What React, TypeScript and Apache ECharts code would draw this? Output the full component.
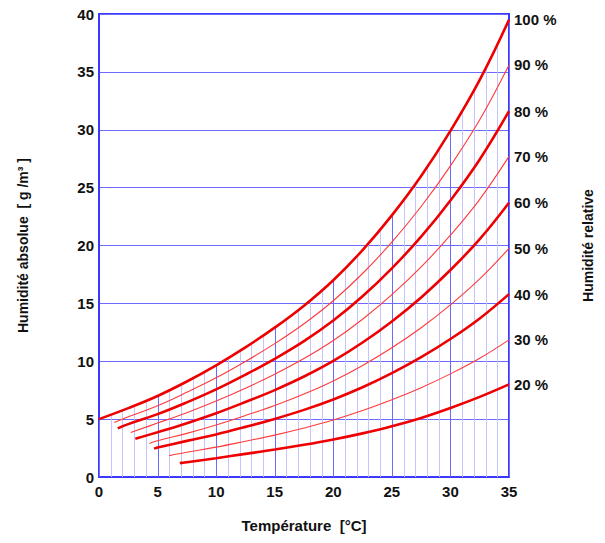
import React, { useEffect, useRef } from "react";
import * as echarts from "echarts";

// Temperature grid (°C) and curves of constant relative humidity (g/m³)
const xTicks = [0, 5, 10, 15, 20, 25, 30, 35];
const yTicks = [0, 5, 10, 15, 20, 25, 30, 35, 40];

const rh100: [number, number][] = [[0,5.0],[2.5,5.95],[5,7.0],[7.5,8.25],[10,9.65],[12.5,11.2],[15,12.9],[17.5,14.8],[20,17.0],[22.5,19.6],[25,22.6],[27.5,26.0],[30,29.9],[32.5,34.3],[35,39.5]];
const rh90: [number, number][] = [[1.3,4.7],[2.5,5.2],[5,6.16],[7.5,7.32],[10,8.57],[12.5,9.98],[15,11.52],[17.5,13.24],[20,15.23],[22.5,17.58],[25,20.29],[27.5,23.37],[30,26.88],[32.5,30.86],[35,35.6]];
const rh80: [number, number][] = [[1.6,4.2],[2.5,4.57],[5,5.43],[7.5,6.45],[10,7.57],[12.5,8.84],[15,10.21],[17.5,11.74],[20,13.52],[22.5,15.61],[25,18.03],[27.5,20.76],[30,23.89],[32.5,27.43],[35,31.6]];
const rh70: [number, number][] = [[2.7,3.85],[5,4.66],[7.5,5.56],[10,6.56],[12.5,7.67],[15,8.88],[17.5,10.23],[20,11.79],[22.5,13.63],[25,15.75],[27.5,18.15],[30,20.89],[32.5,23.99],[35,27.7]];
const rh60: [number, number][] = [[3.1,3.3],[5,3.87],[7.5,4.65],[10,5.51],[12.5,6.48],[15,7.51],[17.5,8.68],[20,10.03],[22.5,11.62],[25,13.44],[27.5,15.51],[30,17.88],[32.5,20.55],[35,23.7]];
const rh50: [number, number][] = [[4.3,2.9],[5,3.13],[7.5,3.77],[10,4.49],[12.5,5.31],[15,6.18],[17.5,7.17],[20,8.3],[22.5,9.64],[25,11.17],[27.5,12.9],[30,14.87],[32.5,17.11],[35,19.75]];
const rh40: [number, number][] = [[4.7,2.45],[5,2.54],[7.5,3.12],[10,3.68],[12.5,4.33],[15,5.02],[17.5,5.8],[20,6.7],[22.5,7.75],[25,8.97],[27.5,10.35],[30,11.92],[32.5,13.7],[35,15.8]];
const rh30: [number, number][] = [[6.0,1.85],[7.5,2.14],[10,2.58],[12.5,3.09],[15,3.62],[17.5,4.23],[20,4.92],[22.5,5.74],[25,6.67],[27.5,7.72],[30,8.91],[32.5,10.26],[35,11.85]];
const rh20: [number, number][] = [[6.9,1.2],[7.5,1.28],[10,1.62],[12.5,2.0],[15,2.37],[17.5,2.78],[20,3.24],[22.5,3.77],[25,4.38],[27.5,5.1],[30,5.96],[32.5,6.92],[35,8.0]];

// Height of the saturation curve at every whole degree (vertical guide lines)
const saturationAtDegree: number[] = [5.0,5.37,5.75,6.15,6.57,7.0,7.48,7.99,8.52,9.08,9.65,10.26,10.88,11.53,12.21,12.9,13.64,14.41,15.22,16.08,17.0,18.02,19.06,20.17,21.37,22.6,23.9,25.3,26.75,28.3,29.9,31.6,33.4,35.3,37.3,39.5];

const curves = [
  { name: "100 %", data: rh100, thick: true },
  { name: "90 %", data: rh90, thick: false },
  { name: "80 %", data: rh80, thick: true },
  { name: "70 %", data: rh70, thick: false },
  { name: "60 %", data: rh60, thick: true },
  { name: "50 %", data: rh50, thick: false },
  { name: "40 %", data: rh40, thick: true },
  { name: "30 %", data: rh30, thick: false },
  { name: "20 %", data: rh20, thick: true },
];

const FONT = "Liberation Sans, Arial, sans-serif";

export default function App() {
  const ref = useRef<HTMLDivElement>(null);
  useEffect(() => {
    if (!ref.current) return;
    const chart = echarts.init(ref.current, undefined, { renderer: "svg" });
    const blue = "#3a3aff";
    const option: any = {
      animation: false,
      backgroundColor: "#ffffff",
      grid: {
        left: 99,
        right: 96,
        top: 14,
        bottom: 66,
        show: true,
        borderColor: blue,
        borderWidth: 2,
        containLabel: false,
      },
      xAxis: {
        type: "value",
        min: 0,
        max: 35,
        interval: 5,
        name: "Température  [°C]",
        nameLocation: "middle",
        nameGap: 41,
        nameTextStyle: { fontFamily: FONT, fontWeight: "bold", fontSize: 15, color: "#111" },
        axisLine: { show: true, lineStyle: { color: blue, width: 2 } },
        axisTick: { show: false },
        axisLabel: { fontFamily: FONT, fontWeight: "bold", fontSize: 15, color: "#111", margin: 7 },
        splitLine: { show: false },
      },
      yAxis: [
        {
          type: "value",
          min: 0,
          max: 40,
          interval: 5,
          name: "Humidité absolue  [ g /m³ ]",
          nameLocation: "middle",
          nameGap: 69,
          nameRotate: 90,
          nameTextStyle: { fontFamily: FONT, fontWeight: "bold", fontSize: 14, color: "#111" },
          axisLine: { show: true, lineStyle: { color: blue, width: 2 } },
          axisTick: { show: false },
          axisLabel: { fontFamily: FONT, fontWeight: "bold", fontSize: 15, color: "#111", margin: 5 },
          splitLine: { show: true, lineStyle: { color: "#6b6bff", width: 1 } },
        },
        {
          type: "value",
          min: 0,
          max: 40,
          interval: 5,
          position: "right",
          name: "Humidité relative",
          nameLocation: "middle",
          nameGap: 72,
          nameRotate: 90,
          nameTextStyle: { fontFamily: FONT, fontWeight: "bold", fontSize: 14, color: "#111" },
          axisLine: { show: true, lineStyle: { color: blue, width: 2 } },
          axisTick: { show: false },
          axisLabel: { show: false },
          splitLine: { show: false },
        },
      ],
      series: [
        {
          type: "custom",
          z: 1,
          data: saturationAtDegree.map((v, i) => [i, v]),
          renderItem: (params: any, api: any) => {
            const t = api.value(0);
            const top = api.value(1);
            const p0 = api.coord([t, 0]);
            const p1 = api.coord([t, top]);
            const x = Math.round(p0[0]) + 0.5;
            return {
              type: "line",
              shape: { x1: x, y1: p0[1], x2: x, y2: p1[1] },
              style: { stroke: t % 5 === 0 ? "#6b6bff" : "#c4c4ff", lineWidth: 1 },
            };
          },
          silent: true,
        },
        ...curves.map((c) => ({
          type: "line",
          name: c.name,
          data: c.data,
          smooth: 0.4,
          showSymbol: false,
          symbol: "none",
          z: c.thick ? 4 : 3,
          silent: true,
          lineStyle: {
            color: c.thick ? "#ee0000" : "#ff3a3a",
            width: c.thick ? 2.6 : 1.1,
          },
          endLabel: {
            show: true,
            formatter: c.name,
            distance: 5,
            fontFamily: FONT,
            fontWeight: "bold",
            fontSize: 15,
            color: "#111",
          },
        })),
      ],
    };
    chart.setOption(option);
    return () => chart.dispose();
  }, []);
  return (
    <div
      ref={ref}
      style={{ position: "fixed", left: 0, top: 0, width: 605, height: 543, margin: 0 }}
    />
  );
}
